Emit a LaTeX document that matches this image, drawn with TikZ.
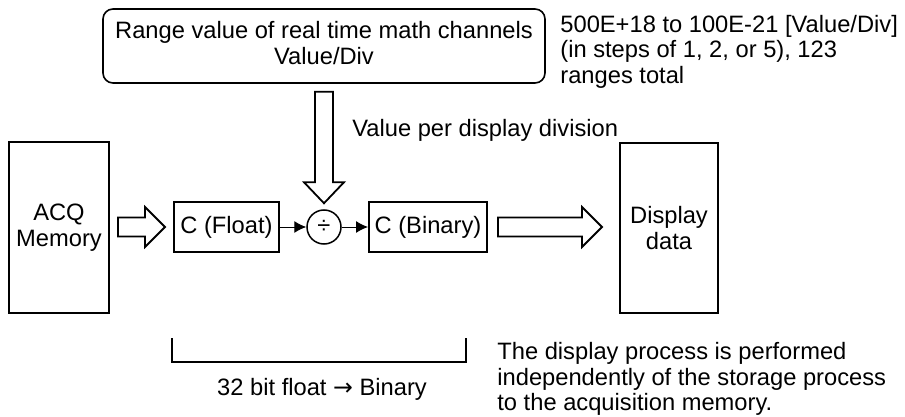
\documentclass[tikz,border=0pt]{standalone}
\usepackage{fontspec}
\setmainfont{Liberation Sans}
\newfontfamily\arrowfont{DejaVu Sans}
\usetikzlibrary{arrows.meta,calc}
\tikzset{
  blk/.style={draw,line width=1pt,inner sep=0pt,align=center},
  pin/.style={-{Latex[length=6pt,width=6pt]},line width=0.5pt},
  fat/.style={draw,line width=0.9pt,line join=miter},
  note/.style={inner sep=0pt,align=left}
}

\begin{document}
\begin{tikzpicture}[x=0.5pt,y=-0.5pt,font=\fontsize{11.85}{12.75}\selectfont]
  \useasboundingbox (0,0) rectangle (905,417);
  % blocks
  \node[blk,minimum width=50pt,minimum height=85.5pt] (acq) at (59,227.5) {ACQ\\Memory};
  \node[blk,minimum width=52.5pt,minimum height=25pt] (cf) at (226.5,227) {C (Float)};
  \node[blk,circle,line width=0.75pt,minimum size=17pt] (div) at (324,227) {÷};
  \node[blk,minimum width=59pt,minimum height=25pt] (cb) at (428,227) {C (Binary)};
  \node[blk,minimum width=49pt,minimum height=85pt] (disp) at (669,228) {Display\\data};
  \node[blk,rounded corners=5pt,line width=0.8pt,minimum width=221pt,minimum height=37pt] (rng) at (324,46)
    {Range value of real time math channels\\Value/Div\rule[-3pt]{0pt}{0pt}};
  % small arrows
  \draw[pin] (cf) -- (div);
  \draw[pin] (div) -- (cb);
  % hollow arrow: memory to float
  \coordinate (s1) at ($(acq.east |- cf)+(8,0)$);
  \coordinate (t1) at ($(cf.west)+(-8,0)$);
  \draw[fat] ($(s1)+(0,-9.5)$) -- ($(t1)+(-20,-9.5)$) -- ($(t1)+(-20,-20)$) -- (t1)
    -- ($(t1)+(-20,20)$) -- ($(t1)+(-20,9.5)$) -- ($(s1)+(0,9.5)$) -- cycle;
  % hollow arrow: binary to display
  \coordinate (s2) at ($(cb.east)+(10,0)$);
  \coordinate (t2) at ($(disp.west |- cb)+(-17,0)$);
  \draw[fat] ($(s2)+(0,-9.5)$) -- ($(t2)+(-20,-9.5)$) -- ($(t2)+(-20,-20)$) -- (t2)
    -- ($(t2)+(-20,20)$) -- ($(t2)+(-20,9.5)$) -- ($(s2)+(0,9.5)$) -- cycle;
  % hollow arrow: range down to divider
  \coordinate (s3) at ($(rng.south)+(0,8)$);
  \coordinate (t3) at ($(div.north)+(0,-6)$);
  \draw[fat] ($(s3)+(-9,0)$) -- ($(t3)+(-9,-21)$) -- ($(t3)+(-20,-21)$) -- (t3)
    -- ($(t3)+(20,-21)$) -- ($(t3)+(9,-21)$) -- ($(s3)+(9,0)$) -- cycle;
  % notes
  \node[note,anchor=north west] (rnote) at (560,14.5)
    {500E+18 to 100E-21 [Value/Div]\\(in steps of 1, 2, or 5), 123\\ranges total};
  \node[note,anchor=base west] (vnote) at (352,137) {Value per display division};
  \node[note,anchor=north west] (pnote) at (497,342)
    {The display process is performed\\independently of the storage process\\to the acquisition memory.};
  % bracket
  \coordinate (brL) at (172,338);
  \coordinate (brR) at (466,338);
  \draw[line width=0.75pt] (brL) -- ++(0,24) -| (brR);
  \node[note,anchor=base] (bnote) at (322,395) {32 bit float {\arrowfont →} Binary};
\end{tikzpicture}
\end{document}
